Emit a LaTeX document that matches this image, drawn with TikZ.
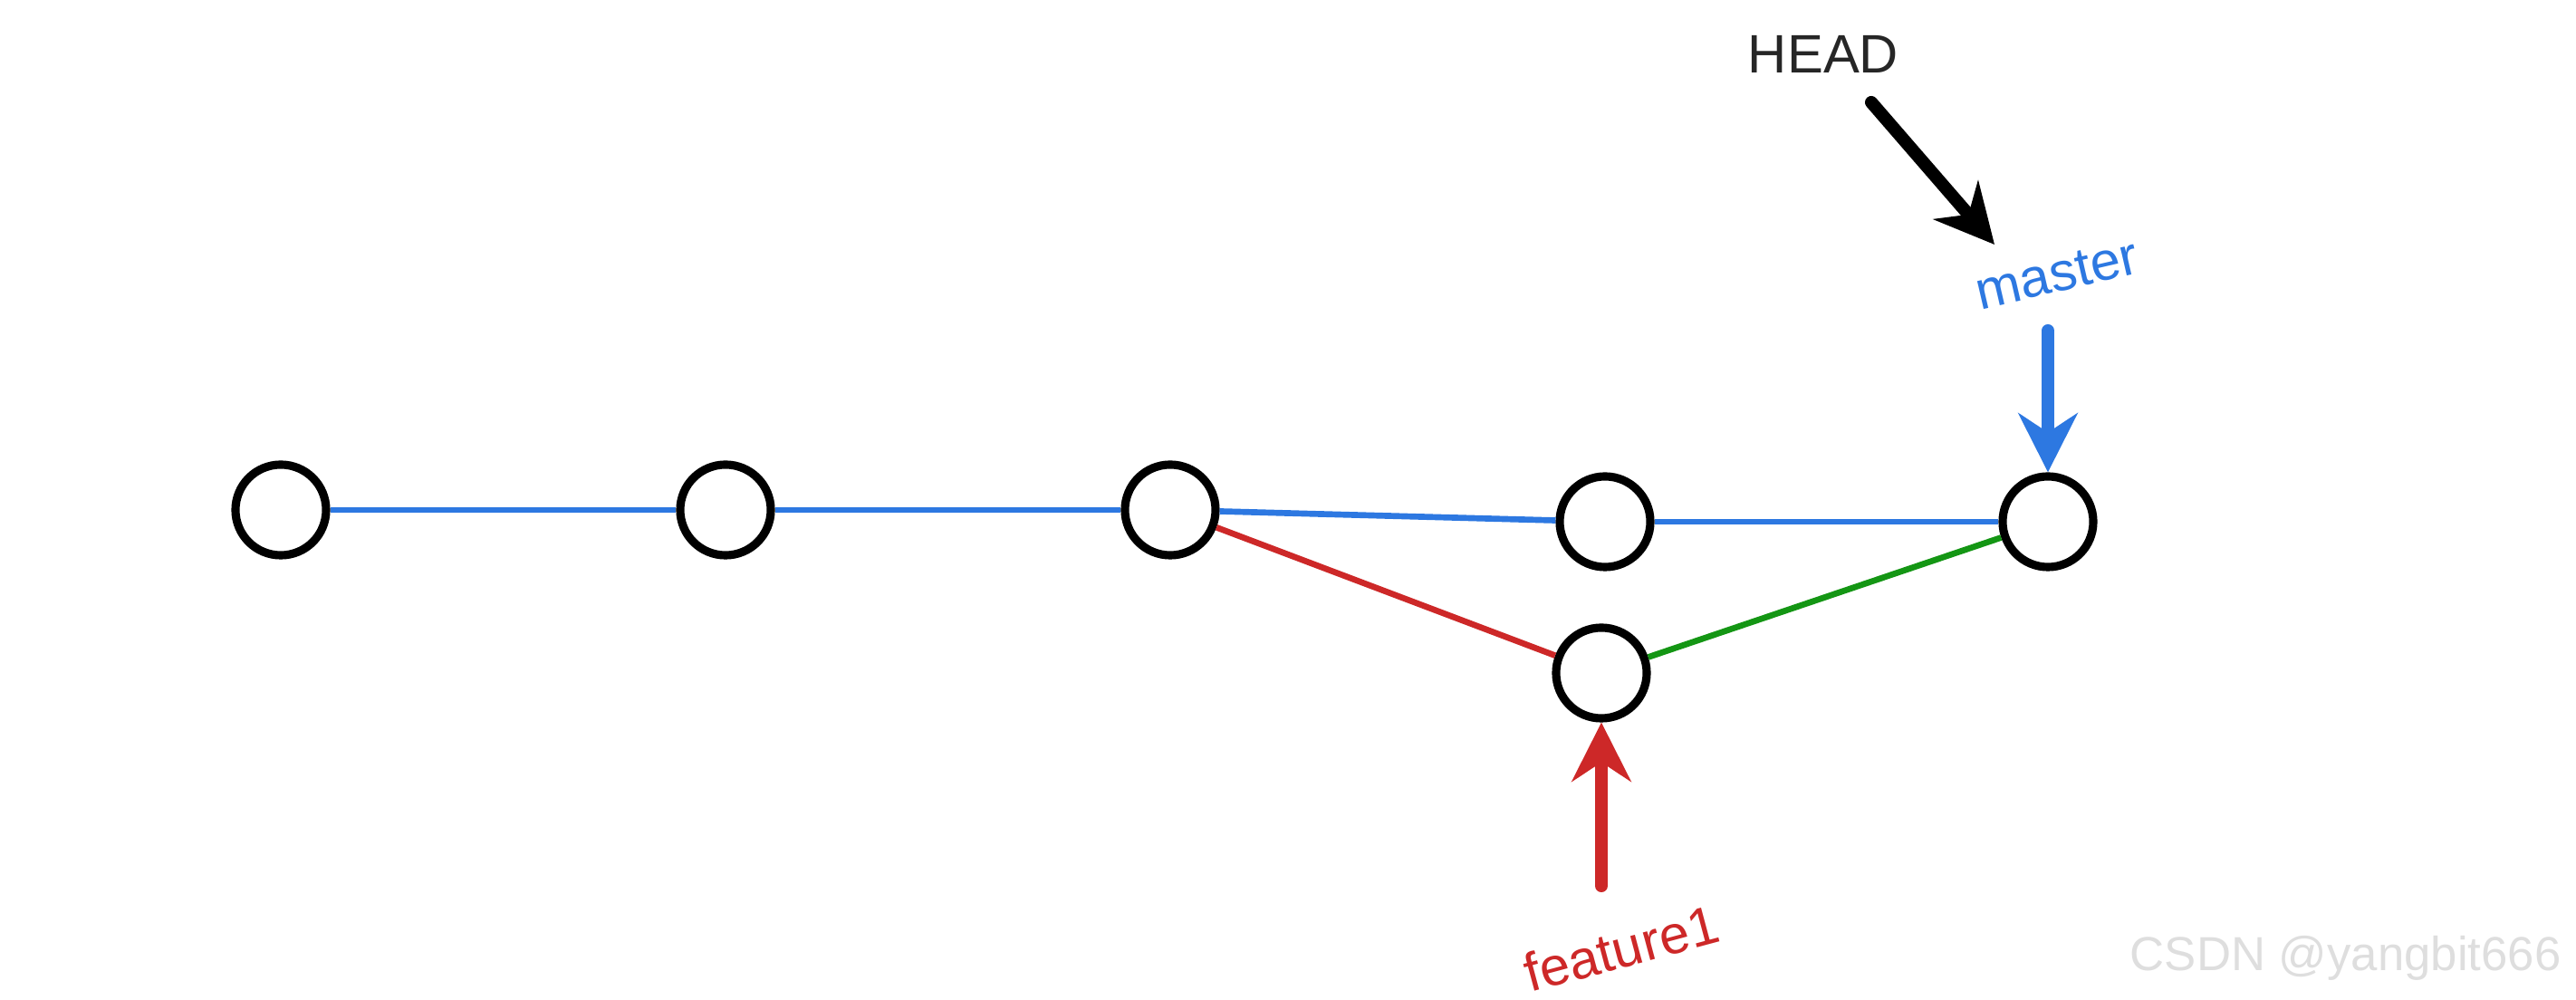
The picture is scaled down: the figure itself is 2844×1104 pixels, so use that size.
\documentclass[tikz,border=0pt]{standalone}
\usepackage{fontspec}
\setmainfont{Liberation Sans}
\usetikzlibrary{arrows.meta}
\definecolor{gitblue}{RGB}{45,120,225}
\definecolor{gitred}{RGB}{205,40,40}
\definecolor{gitgreen}{RGB}{20,150,20}

\begin{document}
\begin{tikzpicture}[x=0.01cm,y=-0.01cm,
  commit/.style={circle,draw,line width=2.6pt,minimum size=1cm,inner sep=0pt,fill=white},
  ptr/.style={line width=4pt,line cap=round,-{Stealth[length=6.5mm,width=6.5mm]}},
  branch/.style={line width=1.9pt},
  lbl/.style={font=\fontsize{17}{20}\selectfont}]

\useasboundingbox (0,0) rectangle (2844,1104);

%% Commits
\node[commit] (c1) at (310,563) {};
\node[commit] (c2) at (801,563) {};
\node[commit] (c3) at (1292,563) {};
\node[commit] (c4) at (1772,576) {};
\node[commit] (c5) at (2261,576) {};
\node[commit] (c6) at (1768,743) {};

%% History
\draw[branch, gitblue] (c1)--(c2);
\draw[branch, gitblue] (c2)--(c3);
\draw[branch, gitblue] (c3)--(c4);
\draw[branch, gitblue] (c4)--(c5);
\draw[branch, gitred] (c3)--(c6);
\draw[branch, gitgreen] (c6)--(c5);

%% Labels
\node[lbl, black!85] (head) at (2013,60) {HEAD};
\node[lbl, gitblue, rotate=13] (masterlbl) at (2271,303) {master};
\node[lbl, gitred, rotate=15] (featlbl) at (1790,1047) {feature1};

%% Pointers
\coordinate (headtail) at (2066,113);
\coordinate (headtip) at (2202,270);
\coordinate (masttail) at (2261,365);
\coordinate (feattail) at (1768,978);
\draw[ptr, black] (headtail)--(headtip);
\draw[ptr, gitblue] (masttail)--(c5);
\draw[ptr, gitred] (feattail)--(c6);

%% Watermark
\node[font=\fontsize{15}{18}\selectfont, text=black!13, anchor=east] (mark) at (2840,1058) {CSDN @yangbit666};

\end{tikzpicture}
\end{document}
